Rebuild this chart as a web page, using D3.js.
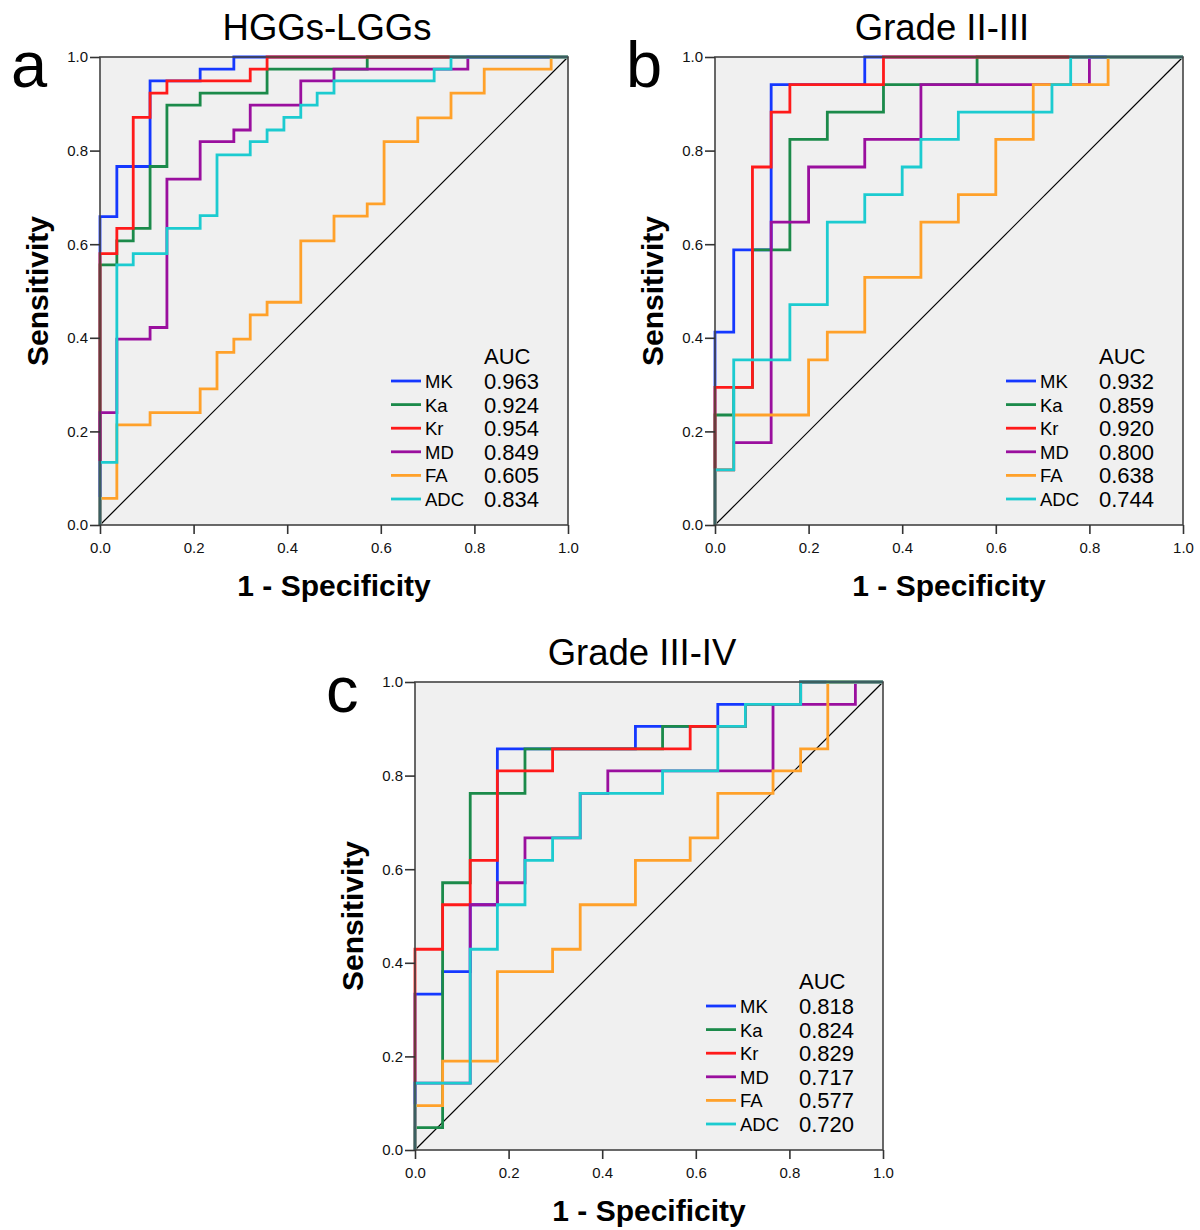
<!DOCTYPE html>
<html>
<head>
<meta charset="utf-8">
<script src="https://cdn.jsdelivr.net/npm/d3@7"></script>
<style>
  body { margin: 0; background: #fff; }
  svg { font-family: "Liberation Sans", Arial, sans-serif; }
</style>
</head>
<body>
<div id="root"></div>
<script>
// ROC curves, [1 - specificity, sensitivity] corner points
var markers = ["MK", "Ka", "Kr", "MD", "FA", "ADC"];
var colors = ["#1538ff", "#1b8a4a", "#ff1a1a", "#9a0f9e", "#ffa12a", "#1ccbd0"];

var titles = ["HGGs-LGGs", "Grade II-III", "Grade III-IV"];
var letters = ["a", "b", "c"];

var aucA = ["0.963", "0.924", "0.954", "0.849", "0.605", "0.834"];
var aucB = ["0.932", "0.859", "0.920", "0.800", "0.638", "0.744"];
var aucC = ["0.818", "0.824", "0.829", "0.717", "0.577", "0.720"];

var tickValues = [0, 0.2, 0.4, 0.6, 0.8, 1.0];

// panel a
var aMK = [[0,0],[0,0.659],[0.036,0.659],[0.036,0.766],[0.107,0.766],[0.107,0.949],[0.214,0.949],[0.214,0.974],[0.286,0.974],[0.286,1],[1,1]];
var aKa = [[0,0],[0,0.556],[0.036,0.556],[0.036,0.607],[0.071,0.607],[0.071,0.634],[0.107,0.634],[0.107,0.766],[0.143,0.766],[0.143,0.897],[0.214,0.897],[0.214,0.923],[0.357,0.923],[0.357,0.974],[0.571,0.974],[0.571,1],[1,1]];
var aKr = [[0,0],[0,0.580],[0.036,0.580],[0.036,0.634],[0.071,0.634],[0.071,0.871],[0.107,0.871],[0.107,0.923],[0.143,0.923],[0.143,0.949],[0.321,0.949],[0.321,0.974],[0.357,0.974],[0.357,1],[1,1]];
var aMD = [[0,0],[0,0.240],[0.036,0.240],[0.036,0.397],[0.107,0.397],[0.107,0.422],[0.143,0.422],[0.143,0.739],[0.214,0.739],[0.214,0.819],[0.286,0.819],[0.286,0.844],[0.321,0.844],[0.321,0.897],[0.429,0.897],[0.429,0.949],[0.5,0.949],[0.5,0.974],[0.786,0.974],[0.786,1],[1,1]];
var aFA = [[0,0],[0,0.057],[0.036,0.057],[0.036,0.214],[0.107,0.214],[0.107,0.240],[0.214,0.240],[0.214,0.291],[0.25,0.291],[0.25,0.369],[0.286,0.369],[0.286,0.397],[0.321,0.397],[0.321,0.449],[0.357,0.449],[0.357,0.476],[0.429,0.476],[0.429,0.607],[0.5,0.607],[0.5,0.660],[0.571,0.660],[0.571,0.686],[0.607,0.686],[0.607,0.819],[0.679,0.819],[0.679,0.870],[0.75,0.870],[0.75,0.923],[0.821,0.923],[0.821,0.974],[0.964,0.974],[0.964,1],[1,1]];
var aADC = [[0,0],[0,0.134],[0.036,0.134],[0.036,0.556],[0.071,0.556],[0.071,0.580],[0.143,0.580],[0.143,0.634],[0.214,0.634],[0.214,0.661],[0.25,0.661],[0.25,0.791],[0.321,0.791],[0.321,0.819],[0.357,0.819],[0.357,0.844],[0.393,0.844],[0.393,0.871],[0.429,0.871],[0.429,0.897],[0.464,0.897],[0.464,0.923],[0.5,0.923],[0.5,0.949],[0.714,0.949],[0.714,0.974],[0.75,0.974],[0.75,1],[1,1]];

// panel b
var bMK = [[0,0],[0,0.412],[0.04,0.412],[0.04,0.588],[0.12,0.588],[0.12,0.941],[0.32,0.941],[0.32,1],[1,1]];
var bKa = [[0,0],[0,0.235],[0.04,0.235],[0.04,0.294],[0.08,0.294],[0.08,0.588],[0.16,0.588],[0.16,0.824],[0.24,0.824],[0.24,0.882],[0.36,0.882],[0.36,0.941],[0.56,0.941],[0.56,1],[1,1]];
var bKr = [[0,0],[0,0.294],[0.08,0.294],[0.08,0.765],[0.12,0.765],[0.12,0.882],[0.16,0.882],[0.16,0.941],[0.36,0.941],[0.36,1],[1,1]];
var bMD = [[0,0],[0,0.118],[0.04,0.118],[0.04,0.176],[0.12,0.176],[0.12,0.647],[0.2,0.647],[0.2,0.765],[0.32,0.765],[0.32,0.824],[0.44,0.824],[0.44,0.941],[0.8,0.941],[0.8,1],[1,1]];
var bFA = [[0,0],[0,0.118],[0.04,0.118],[0.04,0.235],[0.2,0.235],[0.2,0.353],[0.24,0.353],[0.24,0.412],[0.32,0.412],[0.32,0.529],[0.44,0.529],[0.44,0.647],[0.52,0.647],[0.52,0.706],[0.6,0.706],[0.6,0.824],[0.68,0.824],[0.68,0.941],[0.84,0.941],[0.84,1],[1,1]];
var bADC = [[0,0],[0,0.118],[0.04,0.118],[0.04,0.353],[0.16,0.353],[0.16,0.471],[0.24,0.471],[0.24,0.647],[0.32,0.647],[0.32,0.706],[0.4,0.706],[0.4,0.765],[0.44,0.765],[0.44,0.824],[0.52,0.824],[0.52,0.882],[0.72,0.882],[0.72,0.941],[0.76,0.941],[0.76,1],[1,1]];

// panel c
var cMK = [[0,0],[0,0.333],[0.059,0.333],[0.059,0.381],[0.118,0.381],[0.118,0.524],[0.176,0.524],[0.176,0.857],[0.471,0.857],[0.471,0.905],[0.647,0.905],[0.647,0.952],[0.824,0.952],[0.824,1],[1,1]];
var cKa = [[0,0],[0,0.048],[0.059,0.048],[0.059,0.571],[0.118,0.571],[0.118,0.762],[0.235,0.762],[0.235,0.857],[0.529,0.857],[0.529,0.905],[0.706,0.905],[0.706,0.952],[0.824,0.952],[0.824,1],[1,1]];
var cKr = [[0,0],[0,0.429],[0.059,0.429],[0.059,0.524],[0.118,0.524],[0.118,0.619],[0.176,0.619],[0.176,0.810],[0.294,0.810],[0.294,0.857],[0.588,0.857],[0.588,0.905],[0.706,0.905],[0.706,0.952],[0.824,0.952],[0.824,1],[1,1]];
var cMD = [[0,0],[0,0.143],[0.118,0.143],[0.118,0.524],[0.176,0.524],[0.176,0.571],[0.235,0.571],[0.235,0.667],[0.353,0.667],[0.353,0.762],[0.412,0.762],[0.412,0.810],[0.765,0.810],[0.765,0.952],[0.941,0.952],[0.941,1],[1,1]];
var cFA = [[0,0],[0,0.095],[0.059,0.095],[0.059,0.190],[0.176,0.190],[0.176,0.381],[0.294,0.381],[0.294,0.429],[0.353,0.429],[0.353,0.524],[0.471,0.524],[0.471,0.619],[0.588,0.619],[0.588,0.667],[0.647,0.667],[0.647,0.762],[0.765,0.762],[0.765,0.810],[0.824,0.810],[0.824,0.857],[0.882,0.857],[0.882,1],[1,1]];
var cADC = [[0,0],[0,0.143],[0.118,0.143],[0.118,0.429],[0.176,0.429],[0.176,0.524],[0.235,0.524],[0.235,0.619],[0.294,0.619],[0.294,0.667],[0.353,0.667],[0.353,0.762],[0.529,0.762],[0.529,0.810],[0.647,0.810],[0.647,0.905],[0.706,0.905],[0.706,0.952],[0.824,0.952],[0.824,1],[1,1]];

var curves = [
  [aMK, aKa, aKr, aMD, aFA, aADC],
  [bMK, bKa, bKr, bMD, bFA, bADC],
  [cMK, cKa, cKr, cMD, cFA, cADC]
];
var aucs = [aucA, aucB, aucC];

// plot boxes (left, top), each 468 x 468
var boxes = [[100, 57], [715, 57], [415, 682]];
var size = 468;

var svg = d3.select("#root")
    .append("svg")
    .attr("width", 1200)
    .attr("height", 1230);

function drawPanel(p) {
    var left = boxes[p][0], top = boxes[p][1];
    var x = d3.scaleLinear().domain([0, 1]).range([left, left + size]);
    var y = d3.scaleLinear().domain([0, 1]).range([top + size, top]);
    var g = svg.append("g");

    g.append("rect")
        .attr("x", x(0)).attr("y", y(1))
        .attr("width", x(1) - x(0)).attr("height", y(0) - y(1))
        .attr("fill", "#f0f0f0");

    // reference diagonal
    g.append("line")
        .attr("x1", x(0)).attr("y1", y(0))
        .attr("x2", x(1)).attr("y2", y(1))
        .attr("stroke", "#000").attr("stroke-width", 1.2);

    var line = d3.line().x(function (d) { return x(d[0]); }).y(function (d) { return y(d[1]); });

    curves[p].forEach(function (pts, i) {
        g.append("path")
            .attr("d", line(pts))
            .attr("fill", "none")
            .attr("stroke", colors[i])
            .attr("stroke-width", 2.8)
            .attr("stroke-linejoin", "miter");
    });

    g.append("rect")
        .attr("x", x(0)).attr("y", y(1))
        .attr("width", x(1) - x(0)).attr("height", y(0) - y(1))
        .attr("fill", "none")
        .attr("stroke", "#444").attr("stroke-width", 1.6);

    var xAxis = g.append("g")
        .attr("transform", "translate(0," + y(0) + ")")
        .call(d3.axisBottom(x).tickValues(tickValues).tickFormat(d3.format(".1f"))
            .tickSize(9).tickPadding(8).tickSizeOuter(0));
    var yAxis = g.append("g")
        .attr("transform", "translate(" + x(0) + ",0)")
        .call(d3.axisLeft(y).tickValues(tickValues).tickFormat(d3.format(".1f"))
            .tickSize(10).tickPadding(2).tickSizeOuter(0));
    [xAxis, yAxis].forEach(function (ax) {
        ax.select(".domain").remove();
        ax.selectAll(".tick line").attr("stroke", "#333").attr("stroke-width", 1.6);
        ax.selectAll(".tick text").attr("font-size", 15).attr("fill", "#111")
            .attr("font-family", "'Liberation Sans', Arial, sans-serif");
    });

    var cx = (x(0) + x(1)) / 2;
    g.append("text")
        .attr("x", cx - 7).attr("y", top - 17)
        .attr("text-anchor", "middle")
        .attr("font-size", 36.5)
        .text(titles[p]);

    g.append("text")
        .attr("x", left - 89).attr("y", top + 30)
        .attr("font-size", 65)
        .text(letters[p]);

    g.append("text")
        .attr("transform", "translate(" + (left - 52) + "," + (top + 234) + ") rotate(-90)")
        .attr("text-anchor", "middle")
        .attr("font-size", 30)
        .attr("font-weight", "bold")
        .text("Sensitivity");

    g.append("text")
        .attr("x", cx).attr("y", top + size + 71)
        .attr("text-anchor", "middle")
        .attr("font-size", 30)
        .attr("font-weight", "bold")
        .text("1 - Specificity");

    // legend
    var right = x(1), bottom = y(0);
    var lx = right - 177, vx = right - 84;
    g.append("text")
        .attr("x", vx).attr("y", bottom - 161)
        .attr("font-size", 22)
        .text("AUC");
    markers.forEach(function (m, i) {
        var ry = bottom - 144 + i * 23.6;
        g.append("line")
            .attr("x1", lx).attr("x2", lx + 30)
            .attr("y1", ry).attr("y2", ry)
            .attr("stroke", colors[i]).attr("stroke-width", 2.8);
        g.append("text")
            .attr("x", lx + 34).attr("y", ry + 7)
            .attr("font-size", 18.5)
            .text(m);
        g.append("text")
            .attr("x", vx).attr("y", ry + 8)
            .attr("font-size", 22)
            .text(aucs[p][i]);
    });
}

[0, 1, 2].forEach(drawPanel);
</script>
</body>
</html>
